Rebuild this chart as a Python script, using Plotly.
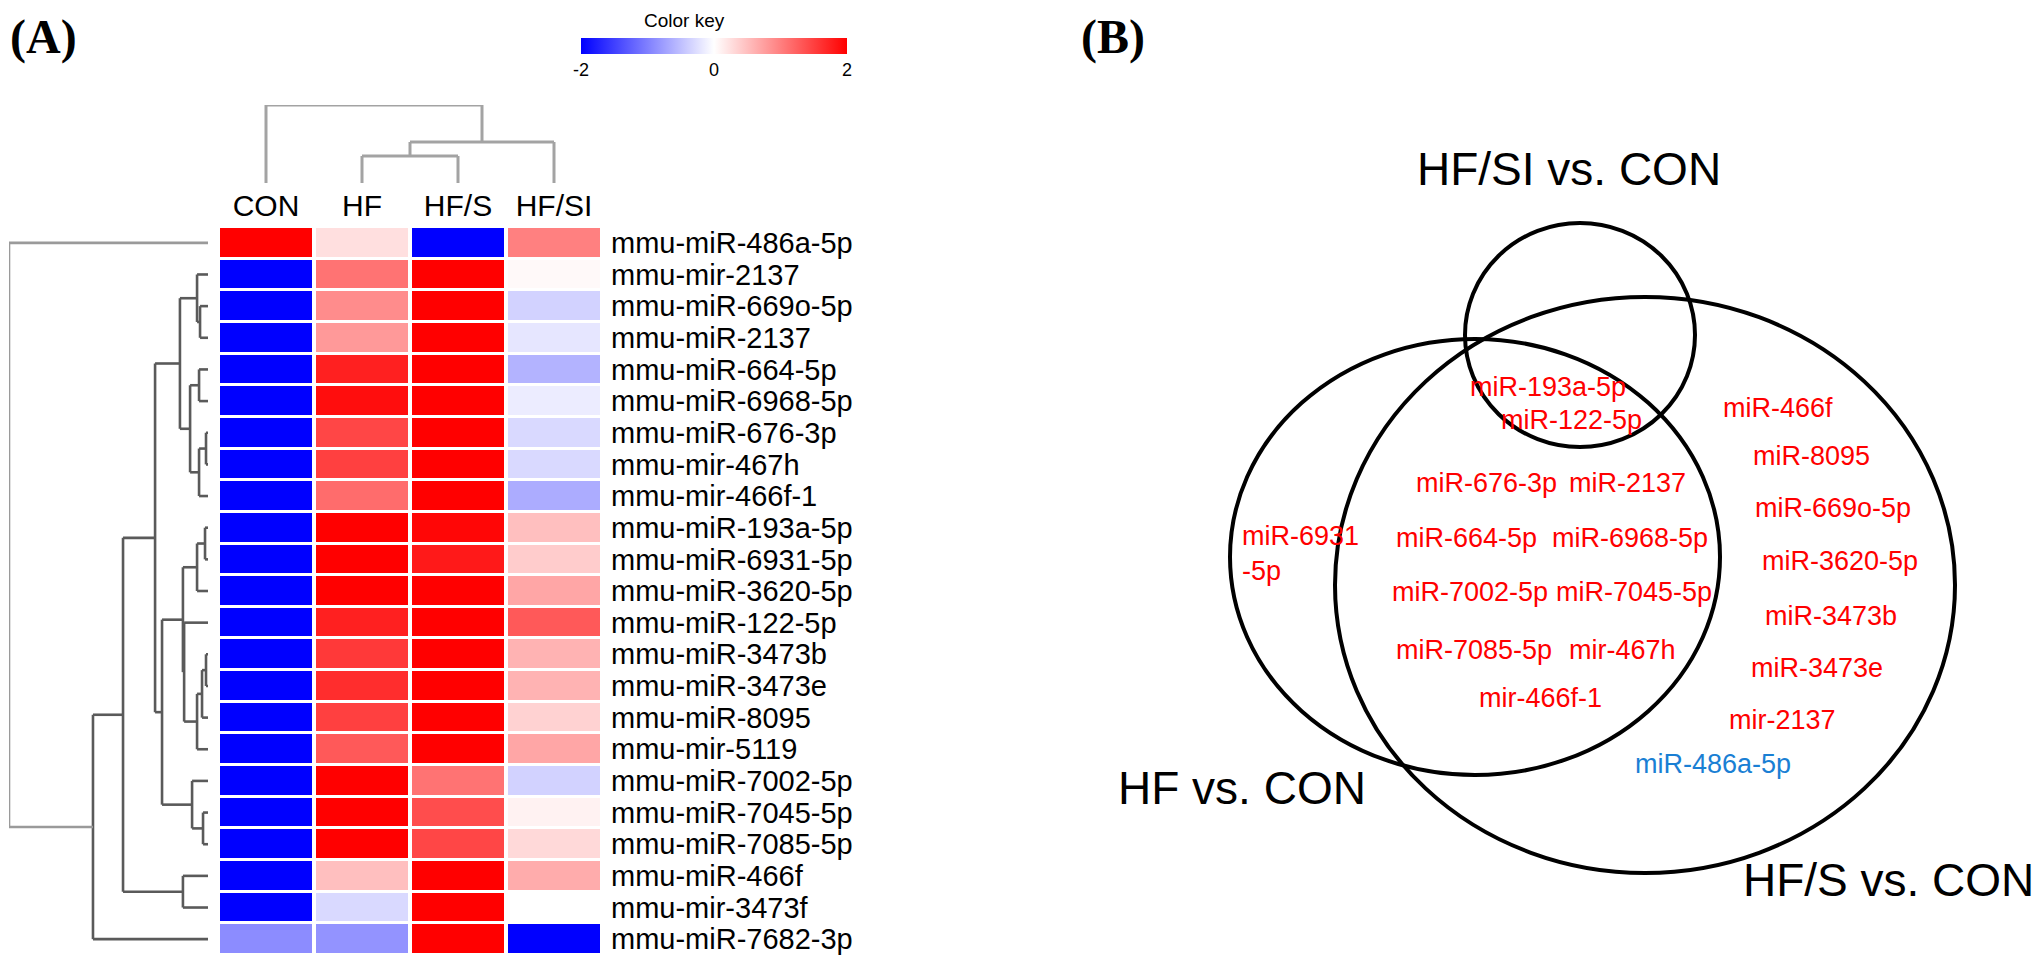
import plotly.graph_objects as go

# ---------------- data ----------------
groups = ["CON", "HF", "HF/S", "HF/SI"]
mirnas = ["mmu-miR-486a-5p", "mmu-mir-2137", "mmu-miR-669o-5p", "mmu-miR-2137",
          "mmu-miR-664-5p", "mmu-miR-6968-5p", "mmu-miR-676-3p", "mmu-mir-467h",
          "mmu-mir-466f-1", "mmu-miR-193a-5p", "mmu-miR-6931-5p", "mmu-miR-3620-5p",
          "mmu-miR-122-5p", "mmu-miR-3473b", "mmu-miR-3473e", "mmu-miR-8095",
          "mmu-mir-5119", "mmu-miR-7002-5p", "mmu-miR-7045-5p", "mmu-miR-7085-5p",
          "mmu-miR-466f", "mmu-mir-3473f", "mmu-miR-7682-3p"]
con_vals  = [2.0, -2, -2, -2, -2, -2, -2, -2, -2, -2, -2, -2, -2, -2, -2, -2, -2, -2, -2, -2, -2, -2, -0.9]
hf_vals   = [0.25, 1.1, 0.9, 0.8, 1.75, 1.9, 1.45, 1.5, 1.15, 2.0, 2.0, 2.0, 1.75, 1.55, 1.65, 1.5, 1.3, 2.0, 2.0, 2.0, 0.5, -0.3, -0.85]
hfs_vals  = [-2.0, 2, 2, 2, 2, 2, 2, 2, 2, 1.95, 1.8, 2, 2, 2, 2, 2, 2, 1.1, 1.4, 1.45, 2, 2, 2]
hfsi_vals = [1.0, 0.05, -0.35, -0.2, -0.6, -0.15, -0.3, -0.3, -0.65, 0.5, 0.4, 0.7, 1.3, 0.6, 0.6, 0.35, 0.7, -0.35, 0.1, 0.3, 0.65, 0.0, -2.0]
key_ticks = [-2, 0, 2]
key_text = ["-2", "0", "2"]

# dendrograms: (height, left, right); ints are leaf indices
row_tree = (10.0, 0,
            (5.78,
             (4.27,
              (2.66,
               (1.41, (0.55, 1, (0.40, 2, 3)),
                      (0.90, (0.45, 4, 5), (0.45, (0.10, 6, 7), 8))),
               (2.31,
                (1.26, (0.55, (0.15, 9, 10), 11),
                       (1.20, 12, (0.55, (0.30, (0.10, 13, 14), 15), 16))),
                (0.80, 17, (0.25, 18, 19)))),
              (1.26, 20, 21)),
             22))
col_tree = (78, 0, (41, (27, 1, 2), 3))

# Venn diagram
venn_sets = ["HF/SI vs. CON", "HF vs. CON", "HF/S vs. CON"]
venn_all_three = ["miR-193a-5p", "miR-122-5p"]
venn_hf_hfs = ["miR-676-3p", "miR-2137", "miR-664-5p", "miR-6968-5p", "miR-7002-5p",
               "miR-7045-5p", "miR-7085-5p", "mir-467h", "mir-466f-1"]
venn_hf_only = ["miR-6931<br>-5p"]
venn_hfs_only_up = ["miR-466f", "miR-8095", "miR-669o-5p", "miR-3620-5p", "miR-3473b",
                    "miR-3473e", "mir-2137"]
venn_hfs_only_down = ["miR-486a-5p"]

# ---------------- layout helpers ----------------
W, H = 2042, 961
OFF = 8  # page body margin compensation
FONT = "Liberation Sans, Arial, sans-serif"

def px(x):
    return max(0.0, (x - OFF) / W)

def py(y):
    return min(1.0, 1 - (y - OFF) / H)

hm_x = [px(218), px(602)]
hm_y = [py(955), py(227)]

z = [[c, h, s, si] for c, h, s, si in zip(con_vals, hf_vals, hfs_vals, hfsi_vals)]

fig = go.Figure()

fig.add_trace(go.Heatmap(
    z=z, x=groups, y=mirnas, zmin=-2, zmax=2,
    colorscale=[[0, "#0000ff"], [0.5, "#ffffff"], [1, "#ff0000"]],
    xgap=4, ygap=3, hoverinfo="skip",
    colorbar=dict(orientation="h", x=px(581), xanchor="left", y=py(38), yanchor="top",
                  len=266, lenmode="pixels", thickness=16, thicknessmode="pixels",
                  xpad=0, ypad=0, outlinewidth=0, tickvals=key_ticks, ticktext=key_text,
                  ticks="", tickfont=dict(family=FONT, size=18, color="black")),
))


def dendro(node, segs, root_h):
    if isinstance(node, int):
        return float(node), 0.0
    h, l, r = node
    pl, hl = dendro(l, segs, root_h)
    pr, hr = dendro(r, segs, root_h)
    col = "#9a9a9a" if h == root_h else "#5a5a5a"
    segs.append(((hl, pl), (h, pl), col))
    segs.append(((hr, pr), (h, pr), col))
    segs.append(((h, pl), (h, pr), col))
    return (pl + pr) / 2, h

# row dendrogram (height on x)
rsegs = []
dendro(row_tree, rsegs, row_tree[0])
for col in sorted(set(s[2] for s in rsegs)):
    xs, ys = [], []
    for (a, b, c) in rsegs:
        if c == col:
            xs += [a[0], b[0], None]
            ys += [a[1], b[1], None]
    fig.add_trace(go.Scatter(x=xs, y=ys, mode="lines", xaxis="x2", yaxis="y2",
                             line=dict(color=col, width=2.6), hoverinfo="skip",
                             showlegend=False, cliponaxis=False))

# column dendrogram (height on y)
csegs = []
dendro(col_tree, csegs, None)
xs, ys = [], []
for (a, b, c) in csegs:
    xs += [a[1], b[1], None]
    ys += [a[0], b[0], None]
fig.add_trace(go.Scatter(x=xs, y=ys, mode="lines", xaxis="x3", yaxis="y3",
                         line=dict(color="#a3a3a3", width=3), hoverinfo="skip",
                         showlegend=False, cliponaxis=False))

# Venn canvas (reference-pixel coords)
fig.add_trace(go.Scatter(x=[OFF], y=[OFF], xaxis="x4", yaxis="y4", mode="markers",
                         marker=dict(opacity=0), hoverinfo="skip", showlegend=False))

venn_ellipses = {  # set name -> (cx, cy, rx, ry)
    "HF/SI vs. CON": (1580, 335, 115, 112),
    "HF vs. CON": (1475, 557, 245, 218),
    "HF/S vs. CON": (1645, 585, 310, 288),
}
shapes = []
for name in venn_sets:
    cx, cy, rx, ry = venn_ellipses[name]
    shapes.append(dict(type="circle", xref="x4", yref="y4", x0=cx - rx, x1=cx + rx,
                       y0=cy - ry, y1=cy + ry, line=dict(color="black", width=4)))

annotations = []
set_label_pos = {"HF/SI vs. CON": (1569, 169, "center"),
                 "HF vs. CON": (1242, 788, "center"),
                 "HF/S vs. CON": (2036, 880, "right")}
for name in venn_sets:
    x, y, anc = set_label_pos[name]
    annotations.append(dict(x=x, y=y, xref="x4", yref="y4", text=name, showarrow=False,
                            xanchor=anc, yanchor="middle",
                            font=dict(family=FONT, size=46, color="black")))

label_pos = {
    "miR-193a-5p": (1548, 387), "miR-122-5p": (1571, 420),
    "miR-676-3p": (1486, 483), "miR-2137": (1627, 483),
    "miR-664-5p": (1466, 538), "miR-6968-5p": (1630, 538),
    "miR-7002-5p": (1470, 592), "miR-7045-5p": (1634, 592),
    "miR-7085-5p": (1474, 650), "mir-467h": (1622, 650),
    "mir-466f-1": (1540, 698),
    "miR-466f": (1778, 408), "miR-8095": (1811, 456), "miR-669o-5p": (1833, 508),
    "miR-3620-5p": (1840, 561), "miR-3473b": (1831, 616), "miR-3473e": (1817, 668),
    "mir-2137": (1782, 720), "miR-486a-5p": (1713, 764),
}
for group, color in [(venn_all_three, "#ff0000"), (venn_hf_hfs, "#ff0000"),
                     (venn_hfs_only_up, "#ff0000"), (venn_hfs_only_down, "#1a7fd4")]:
    for lab in group:
        x, y = label_pos[lab]
        annotations.append(dict(x=x, y=y, xref="x4", yref="y4", text=lab, showarrow=False,
                                xanchor="center", yanchor="middle",
                                font=dict(family=FONT, size=27, color=color)))
for lab in venn_hf_only:
    annotations.append(dict(x=1240, y=553, xref="x4", yref="y4", text=lab, showarrow=False,
                            xanchor="left", yanchor="middle", align="left",
                            font=dict(family=FONT, size=27, color="#ff0000")))

# panel letters & colour key title (anchored at the top edge so nothing is clipped)
annotations.append(dict(x=px(8), y=1, xref="paper", yref="paper", text="<b>(A)</b>",
                        showarrow=False, xanchor="left", yanchor="top",
                        font=dict(family="Liberation Serif, Times New Roman, serif", size=48, color="black")))
annotations.append(dict(x=px(1113), y=1, xref="paper", yref="paper", text="<b>(B)</b>",
                        showarrow=False, xanchor="center", yanchor="top",
                        font=dict(family="Liberation Serif, Times New Roman, serif", size=48, color="black")))
annotations.append(dict(x=px(684), y=1, xref="paper", yref="paper", text="Color key",
                        showarrow=False, xanchor="center", yanchor="top",
                        font=dict(family=FONT, size=19, color="black")))

noax = dict(showgrid=False, zeroline=False, showticklabels=False, ticks="", showline=False)

fig.update_layout(
    width=W, height=H, margin=dict(l=0, r=0, t=0, b=0),
    paper_bgcolor="white", plot_bgcolor="rgba(0,0,0,0)", showlegend=False,
    xaxis=dict(domain=hm_x, side="top", showgrid=False, zeroline=False, ticks="",
               ticklabelstandoff=4, tickfont=dict(family=FONT, size=30, color="black")),
    yaxis=dict(domain=hm_y, side="right", range=[22.5, -0.5], showgrid=False, zeroline=False,
               tickmode="array", tickvals=mirnas, ticktext=mirnas,
               ticks="", ticklabelstandoff=8, tickfont=dict(family=FONT, size=29, color="black")),
    xaxis2=dict(domain=[px(9), px(208)], range=[row_tree[0], 0], anchor="y2", **noax),
    yaxis2=dict(domain=hm_y, range=[22.5, -0.5], anchor="x2", **noax),
    xaxis3=dict(domain=hm_x, range=[-0.5, 3.5], anchor="y3", **noax),
    yaxis3=dict(domain=[py(183), py(105)], range=[0, col_tree[0]], anchor="x3", **noax),
    xaxis4=dict(domain=[0, 1], range=[OFF, W + OFF], anchor="y4", **noax),
    yaxis4=dict(domain=[0, 1], range=[H + OFF, OFF], anchor="x4", **noax),
    shapes=shapes, annotations=annotations,
)

fig.write_html("out.html")
